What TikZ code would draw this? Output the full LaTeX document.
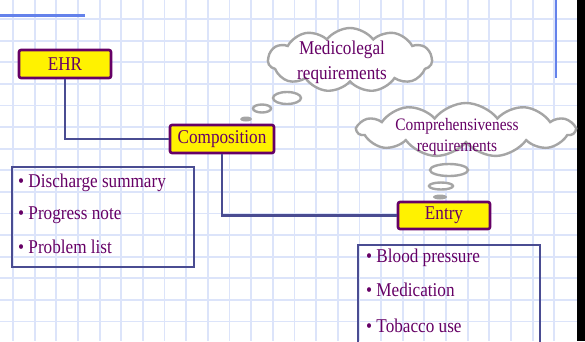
\documentclass[tikz,border=0pt]{standalone}
\usepackage{fontspec}
\setmainfont{Liberation Serif}[FakeStretch=0.88]
\usetikzlibrary{shapes.symbols,shapes.geometric}
\definecolor{txt}{RGB}{102,0,102}
\definecolor{conn}{RGB}{74,76,146}
\definecolor{gridc}{RGB}{220,228,250}
\definecolor{accent}{RGB}{100,130,235}
\definecolor{cloudc}{RGB}{165,165,165}
\tikzset{
  titlebox/.style={draw=txt,fill=yellow,line width=2.6pt,rounded corners=2pt,text=txt,font=\fontsize{19.5}{22}\selectfont,inner sep=0pt},
  connline/.style={draw=conn,line width=2.6pt},
  listbox/.style={draw=conn,line width=2.6pt,inner sep=0pt},
  listitem/.style={anchor=west,text=txt,font=\fontsize{19.5}{22}\selectfont,inner sep=0pt},
  thought/.style={cloud,cloud puffs=11,cloud puff arc=105,cloud ignores aspect,draw=cloudc,fill=white,line width=2.4pt,inner sep=0pt},
  bubble/.style={ellipse,draw=cloudc,fill=white,line width=2.4pt,inner sep=0pt},
  dotbubble/.style={ellipse,fill=cloudc,inner sep=0pt},
  cloudtext/.style={text=txt,align=center,inner sep=0pt}
}
\begin{document}
\begin{tikzpicture}[x=1pt,y=-1pt]
\useasboundingbox (0,0) rectangle (585,341);
\fill[white] (0,0) rectangle (585,341);
% grid
\foreach \i in {0,...,25} {\draw[gridc,line width=1.8pt] (13+\i*21.65,0) -- (13+\i*21.65,341);}
\foreach \j in {0,...,15} {\draw[gridc,line width=1.8pt] (0,19+\j*21.6) -- (585,19+\j*21.6);}
% decorative lines
\draw[accent,line width=2.4pt] (0,15.5) -- (85,15.5);
\draw[accent,line width=2.4pt] (556,0) -- (556,78);
\fill[black] (577,0) rectangle (585,341);
% boxes
\node[titlebox,minimum width=92pt,minimum height=28pt] (ehr) at (65,64) {EHR};
\node[titlebox,minimum width=104pt,minimum height=28pt] (comp) at (222,139) {Composition};
\node[titlebox,minimum width=92pt,minimum height=27pt] (entry) at (444,215.5) {Entry};
% connectors
\draw[connline] (ehr.south) |- (comp.west);
\draw[connline] (comp.south) |- (entry.west);
% list boxes
\node[listbox,minimum width=182pt,minimum height=100pt] (list1) at (103,217) {};
\node[listitem] (l1a) at (18,183) {• Discharge summary};
\node[listitem] (l1b) at (18,215) {• Progress note};
\node[listitem] (l1c) at (18,247) {• Problem list};
\node[listbox,minimum width=182pt,minimum height=102pt] (list2) at (449,296) {};
\node[listitem] (l2a) at (366,258) {• Blood pressure};
\node[listitem] (l2b) at (366,290) {• Medication};
\node[listitem] (l2c) at (366,326) {• Tobacco use};
% thought clouds
\node[thought,minimum width=164pt,minimum height=64pt] (cl1) at (350,60) {};
\node[cloudtext,font=\fontsize{19.5}{25}\selectfont] (cl1t) at (342,62) {Medicolegal\\requirements};
\node[bubble,minimum width=28pt,minimum height=12pt] (b1a) at (287,98) {};
\node[bubble,minimum width=18pt,minimum height=8pt] (b1b) at (262,108.5) {};
\node[dotbubble,minimum width=12pt,minimum height=5pt] (b1c) at (246,119) {};
\node[thought,minimum width=217pt,minimum height=54pt] (cl2) at (466,130) {};
\node[cloudtext,font=\fontsize{17.5}{21}\selectfont] (cl2t) at (457,137) {Comprehensiveness\\requirements};
\node[bubble,minimum width=38pt,minimum height=12pt] (b2a) at (449,170) {};
\node[bubble,minimum width=24pt,minimum height=7pt] (b2b) at (441,186) {};
\node[dotbubble,minimum width=14pt,minimum height=5pt] (b2c) at (440,197) {};
\end{tikzpicture}
\end{document}
